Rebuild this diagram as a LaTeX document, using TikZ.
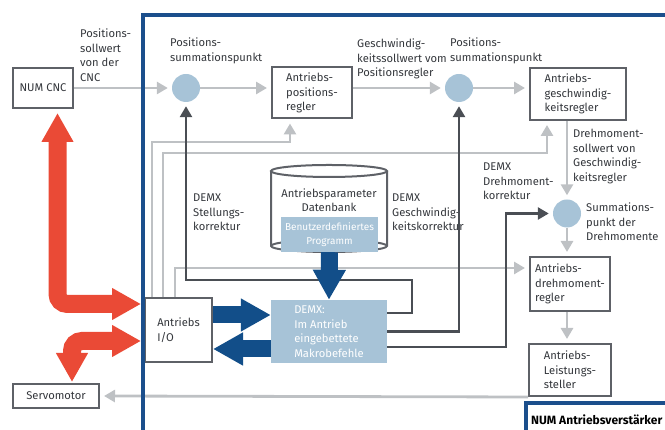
\documentclass[tikz,border=0pt]{standalone}
\usepackage{fontspec}
\setmainfont{Fira Sans}
\usetikzlibrary{arrows.meta}

\definecolor{frameblue}{HTML}{1B4F8C}
\definecolor{arrowblue}{HTML}{124E89}
\definecolor{lightblue}{HTML}{A7C3D7}
\definecolor{boxgray}{HTML}{5E6167}
\definecolor{linegray}{HTML}{BEC1C4}
\definecolor{darkline}{HTML}{4A4E54}
\definecolor{redarrow}{HTML}{EA4A36}
\definecolor{textgray}{HTML}{34373C}

\begin{document}
\begin{tikzpicture}[x=1pt, y=1pt,
  font=\fontsize{11.2}{14.5}\selectfont, text=textgray,
  box/.style={draw=boxgray, line width=2pt, fill=white, align=left, inner sep=0pt},
  sumpt/.style={circle, fill=lightblue, minimum size=28pt, inner sep=0pt},
  lbl/.style={anchor=north west, align=left, inner sep=0pt},
  sigline/.style={draw=linegray, line width=2.8pt, -{Triangle[length=11pt,width=12pt]}, shorten >=4pt},
  corrline/.style={draw=darkline, line width=2.6pt, -{Triangle[length=11pt,width=12pt]}, shorten >=4pt},
  powerarrow/.style={draw=redarrow, line width=18pt, {Triangle[length=29pt,width=30pt]}-{Triangle[length=29pt,width=30pt]}, rounded corners=10pt},
  dataarrow/.style={draw=arrowblue, line width=17pt, -{Triangle[length=30pt,width=31pt]}}
]
\useasboundingbox (0,0) rectangle (665,430);

% database cylinder
\draw[boxgray, line width=2pt] (271,259) -- (271,184) arc[start angle=180, end angle=360, x radius=58, y radius=6] -- (387,259);
\draw[boxgray, line width=2pt] (329,259) ellipse [x radius=58, y radius=6];
\draw[boxgray, line width=2pt] (271,184) arc[start angle=180, end angle=0, x radius=58, y radius=6];
\node[align=center] (dbtext) at (329,230) {Antriebsparameter\\Datenbank};
\node[fill=lightblue, text=white, align=center, inner sep=0pt, minimum width=97pt, minimum height=35pt, font=\fontsize{10}{13.5}\selectfont] (prog) at (329.5,195.5) {Benutzerdefiniertes\\Programm};

% blocks
\node[box, minimum width=60pt, minimum height=40pt] (cnc) at (43,342) {NUM CNC};
\node[sumpt] (sum1) at (186,342) {};
\node[box, minimum width=80pt, minimum height=51pt] (posreg) at (312,337) {Antriebs-\\positions-\\regler};
\node[sumpt] (sum2) at (459,342) {};
\node[box, minimum width=96pt, minimum height=52pt] (velreg) at (578,336) {Antriebs-\\geschwindig-\\keitsregler};
\node[sumpt] (sum3) at (567,216.5) {};
\node[box, minimum width=80pt, minimum height=54pt] (torqreg) at (570,146) {Antriebs-\\drehmoment-\\regler};
\node[box, minimum width=82pt, minimum height=52pt] (power) at (570,60) {Antriebs-\\Leistungs-\\steller};
\node[box, minimum width=86pt, minimum height=24pt] (servo) at (56,34) {Servomotor};
\node[box, minimum width=67pt, minimum height=64pt] (io) at (178.5,100) {Antriebs\\I/O};
\node[fill=lightblue, text=white, align=left, inner sep=0pt, minimum width=116pt, minimum height=63pt] (demx) at (329,98.5) {DEMX:\\Im Antrieb\\eingebettete\\Makrobefehle};

% labels
\node[lbl] (cncsoll) at (80,401) {Positions-\\sollwert\\von der\\CNC};
\node[lbl] (sum1lbl) at (170,392) {Positions-\\summationspunkt};
\node[lbl] (possoll) at (357,391) {Geschwindig-\\keitssollwert vom\\Positionsregler};
\node[lbl] (sum2lbl) at (450,392) {Positions-\\summationspunkt};
\node[lbl] (velsoll) at (573,301) {Drehmoment-\\sollwert von\\Geschwindig-\\keitsregler};
\node[lbl] (torqkorr) at (483,267) {DEMX\\Drehmoment-\\korrektur};
\node[lbl] (sum3lbl) at (586,227) {Summations-\\punkt der\\Drehmomente};
\node[lbl] (poskorr) at (193,236) {DEMX\\Stellungs-\\korrektur};
\node[lbl] (velkorr) at (392,236) {DEMX\\Geschwindig-\\keitskorrektur};

% signal lines
\coordinate (ga) at (290,288);
\coordinate (gb) at (547,277);
\draw[sigline] (cnc) -- (sum1);
\draw[sigline] (sum1) -- (posreg.west |- sum1);
\draw[sigline] (posreg.east |- sum2) -- (sum2);
\draw[sigline] (sum2) -- (velreg.west |- sum2);
\draw[sigline] (velreg.south -| sum3) -- (sum3);
\draw[sigline] (sum3) -- (torqreg.north -| sum3);
\draw[sigline] (torqreg.south -| sum3) -- (power.north -| sum3);
\draw[sigline] (power.south west) -- (servo.east);
\draw[sigline] ([xshift=-26.5pt]io.north) |- (ga) -- (ga |- posreg.south);
\draw[sigline] ([xshift=-15.5pt]io.north) |- (gb) -- (gb |- velreg.south);
\draw[sigline] ([xshift=-3.5pt]io.north) |- ([yshift=16pt]torqreg.west);

% DEMX corrections
\coordinate (k1) at (412,150);
\coordinate (k3) at (506,216.5);
\draw[corrline] ([yshift=18.5pt]demx.east) -| (k1) -| (sum1);
\draw[corrline] (demx.east) -| (sum2);
\draw[corrline] ([yshift=-15.5pt]demx.east) -| (k3) -- (sum3);

% data and power flow
\draw[dataarrow] ([yshift=15pt]io.east) -- ([yshift=16.5pt]demx.west);
\draw[dataarrow] ([yshift=-17.5pt]demx.west) -- ([yshift=-19pt]io.east);
\draw[dataarrow] (prog.south) -- (demx.north);
\draw[powerarrow] ([xshift=14.5pt,yshift=-4pt]cnc.south) |- ([xshift=-3pt,yshift=26pt]io.west);
\draw[powerarrow] ([xshift=-3pt,yshift=-11pt]io.west) -| ([xshift=16pt,yshift=1pt]servo.north);

% amplifier frame
\draw[frameblue, line width=3.5pt] (143,-5) -- (143,415) -- (670,415);
\draw[frameblue, line width=3.5pt] (526,-5) -- (526,27) -- (670,27);
\node[anchor=west, inner sep=0pt, text=black, font=\bfseries\fontsize{12}{13}\selectfont] (ampl) at (531,10) {NUM Antriebsverstärker};
\end{tikzpicture}
\end{document}
